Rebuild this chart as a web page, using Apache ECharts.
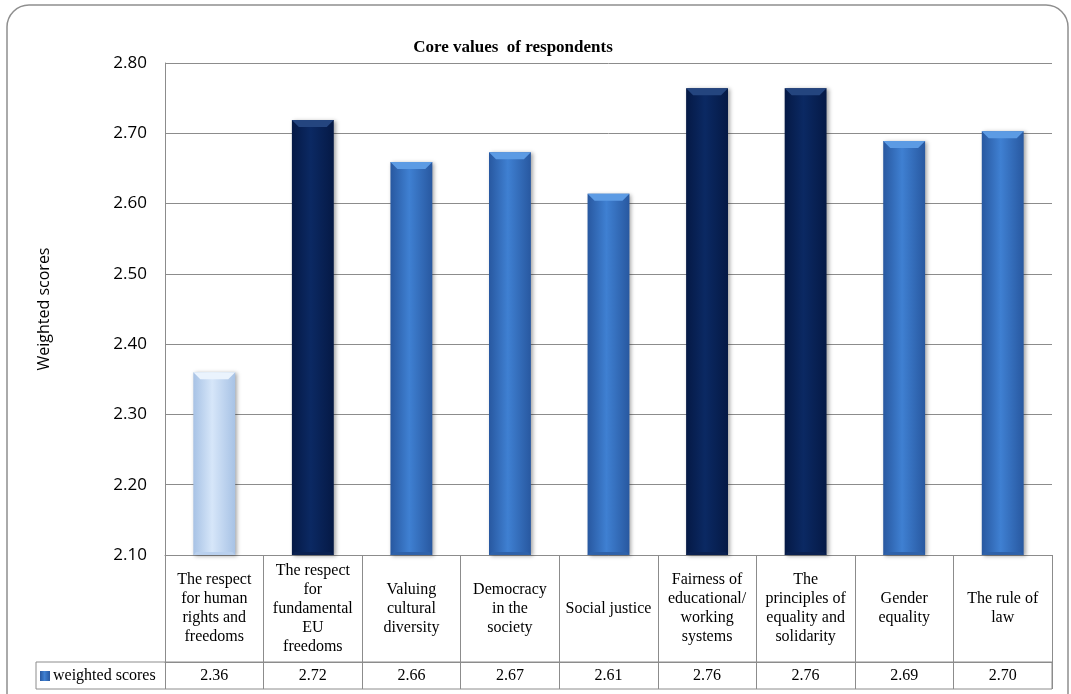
<!DOCTYPE html>
<html>
<head>
<meta charset="utf-8">
<script src="https://cdn.jsdelivr.net/npm/echarts@6/dist/echarts.min.js"></script>
<style>
  html, body { margin: 0; padding: 0; background: #fff; }
  #chart { width: 1071px; height: 694px; }
</style>
</head>
<body>
<div id="chart"></div>
<script>
// Categories (line breaks as shown in the table cells)
const categories = [
  'The respect\nfor human\nrights and\nfreedoms',
  'The respect\nfor\nfundamental\nEU\nfreedoms',
  'Valuing\ncultural\ndiversity',
  'Democracy\nin the\nsociety',
  'Social justice',
  'Fairness of\neducational/\nworking\nsystems',
  'The\nprinciples of\nequality and\nsolidarity',
  'Gender\nequality',
  'The rule of\nlaw'
];
// Weighted scores per value
const scores = [2.36, 2.719, 2.659, 2.673, 2.614, 2.764, 2.764, 2.689, 2.703];
// Shade group of each bar
const tones = ['light', 'dark', 'mid', 'mid', 'mid', 'dark', 'dark', 'mid', 'mid'];
const seriesName = 'weighted scores';
const yTicks = { min: 2.1, max: 2.8, step: 0.1 };

const GRID = { left: 165, right: 19, top: 63, bottom: 139 };
const HEADER_H = 107;   // height of the category row of the data table
const ROW_H = 27;       // height of the value row
const LINE = '#8c8c8c';
const SERIF = '"Liberation Serif", "DejaVu Serif", serif';
const SANS = '"Open Sans", "Noto Sans", sans-serif';

function hGrad(edge, mid) {
  return new echarts.graphic.LinearGradient(0, 0, 1, 0, [
    { offset: 0, color: edge },
    { offset: 0.45, color: mid },
    { offset: 1, color: edge }
  ]);
}
const toneStyle = {
  light: { body: hGrad('#a7c2e5', '#d6e6f9'), bevel: '#eaf3fd', base: '#b9d0ee' },
  dark:  { body: hGrad('#051945', '#0b2963'), bevel: '#24457f', base: '#0a2050' },
  mid:   { body: hGrad('#2858a0', '#3f80d2'), bevel: '#5c9be4', base: '#2f62aa' }
};

// Bar with a bevelled top, positioned through the axis scales
function renderBar(params, api) {
  const idx = api.value(0);
  const val = api.value(1);
  const top = api.coord([idx, val]);
  const bottom = api.coord([idx, yTicks.min]);
  const w = api.size([1, 0])[0] * 0.425;
  const x0 = top[0] - w / 2;
  const x1 = top[0] + w / 2;
  const y0 = top[1];
  const y1 = bottom[1];
  const b = 7;
  const st = toneStyle[tones[idx]];
  return {
    type: 'group',
    children: [
      {
        type: 'rect',
        shape: { x: x0, y: y0, width: w, height: y1 - y0 },
        style: {
          fill: st.body,
          shadowColor: 'rgba(0,0,0,0.35)', shadowBlur: 4, shadowOffsetX: 2, shadowOffsetY: 1
        }
      },
      {
        type: 'polygon',
        shape: { points: [[x0, y0], [x1, y0], [x1 - b, y0 + b], [x0 + b, y0 + b]] },
        style: { fill: st.bevel }
      },
      {
        type: 'polygon',
        shape: { points: [[x0, y1], [x1, y1], [x1 - 3, y1 - 3], [x0 + 3, y1 - 3]] },
        style: { fill: st.base }
      }
    ]
  };
}

const chart = echarts.init(document.getElementById('chart'), null, { renderer: 'canvas' });

const W = 1071, H = 694;
const plotRight = W - GRID.right;
const tableTop = H - GRID.bottom;

chart.setOption({
  animation: false,
  backgroundColor: '#ffffff',
  title: {
    text: 'Core values  of respondents',
    left: 508, top: 34, textAlign: 'center',
    textStyle: { fontFamily: SERIF, fontSize: 17, fontWeight: 'bold', color: '#000' }
  },
  legend: {
    left: 40, top: tableTop + HEADER_H + 6,
    data: [seriesName],
    icon: 'rect', itemWidth: 10, itemHeight: 10, itemGap: 0,
    textStyle: { fontFamily: SERIF, fontSize: 16, color: '#000', padding: [0, 0, 0, -2] },
    selectedMode: false,
    padding: 0
  },
  grid: { left: GRID.left, right: GRID.right, top: GRID.top, bottom: GRID.bottom, containLabel: false },
  xAxis: [
    {
      type: 'category',
      data: categories,
      position: 'bottom',
      boundaryGap: true,
      axisLine: { show: true, lineStyle: { color: LINE, width: 1 } },
      axisTick: { show: true, interval: 0, length: HEADER_H + ROW_H, lineStyle: { color: LINE, width: 1 } },
      axisLabel: {
        interval: 0, margin: HEADER_H / 2, verticalAlign: 'middle', align: 'center',
        fontFamily: SERIF, fontSize: 16, lineHeight: 19, color: '#000'
      },
      splitLine: { show: false }
    },
    {
      type: 'category',
      data: categories,
      position: 'bottom',
      offset: HEADER_H,
      boundaryGap: true,
      axisLine: { show: true, lineStyle: { color: LINE, width: 1 } },
      axisTick: { show: false },
      axisLabel: {
        interval: 0, margin: ROW_H / 2, verticalAlign: 'middle', align: 'center',
        fontFamily: SERIF, fontSize: 16, color: '#000',
        formatter: (v, i) => scores[i].toFixed(2)
      }
    }
  ],
  yAxis: {
    type: 'value',
    min: yTicks.min, max: yTicks.max, interval: yTicks.step,
    name: 'Weighted scores',
    nameLocation: 'middle', nameGap: 113, nameRotate: 90,
    nameTextStyle: { fontFamily: SANS, fontSize: 16, color: '#000' },
    axisLine: { show: true, lineStyle: { color: LINE, width: 1 } },
    axisTick: { show: false },
    axisLabel: {
      margin: 18, fontFamily: SANS, fontSize: 17, color: '#000',
      formatter: v => v.toFixed(2)
    },
    splitLine: { show: true, lineStyle: { color: LINE, width: 1 } }
  },
  series: [
    {
      name: seriesName,
      type: 'custom',
      renderItem: renderBar,
      itemStyle: { color: toneStyle.mid.body },
      encode: { x: 0, y: 1 },
      data: scores.map((v, i) => [i, v])
    }
  ],
  graphic: [
    // rounded outer frame
    {
      type: 'rect', silent: true, z: -1,
      shape: { x: 7, y: 5, width: 1061, height: 710, r: 22 },
      style: { fill: null, stroke: '#8f8f8f', lineWidth: 1.5 }
    },
    // value row outline including the series cell on the left
    {
      type: 'rect', silent: true,
      shape: { x: 36, y: tableTop + HEADER_H, width: plotRight - 36, height: ROW_H },
      style: { fill: null, stroke: LINE, lineWidth: 1 }
    }
  ]
});
</script>
</body>
</html>
